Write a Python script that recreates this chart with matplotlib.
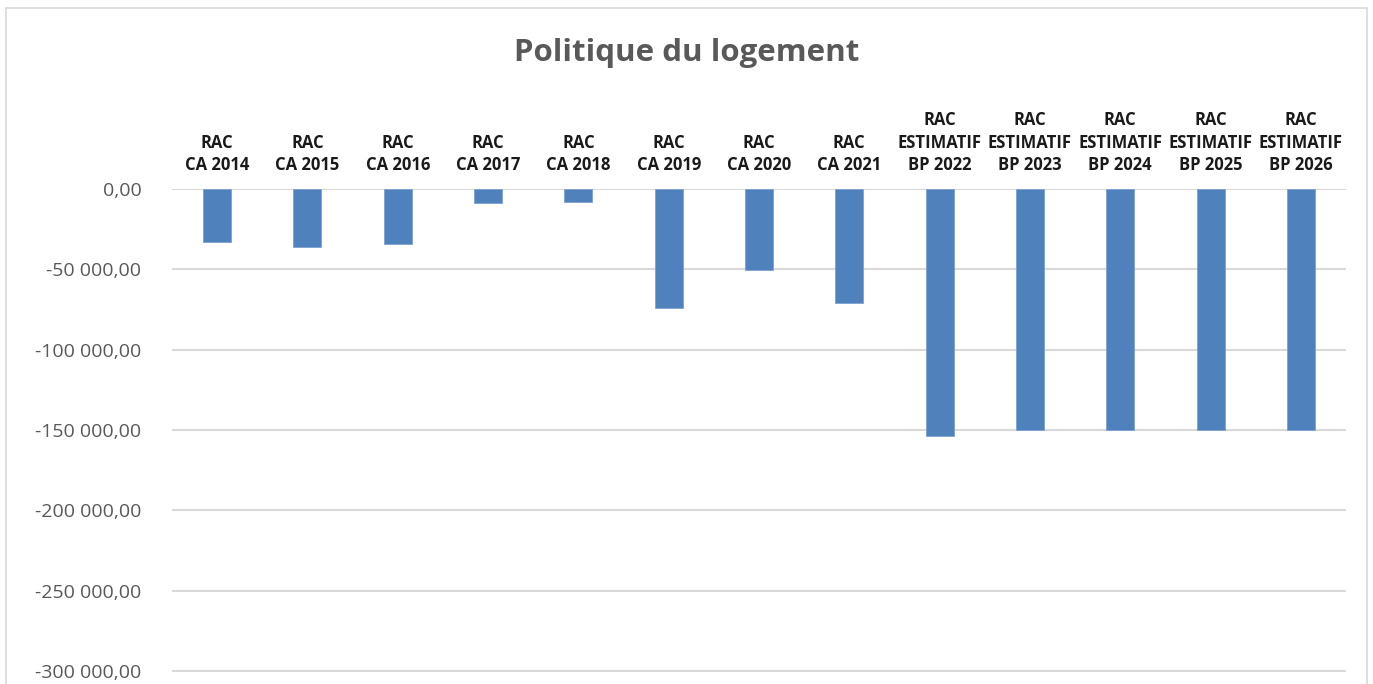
import matplotlib
matplotlib.use("Agg")
import matplotlib.pyplot as plt
from matplotlib.ticker import FuncFormatter, MultipleLocator
from matplotlib.patches import Rectangle
import numpy as np

plt.rcParams['font.family'] = ['Open Sans', 'DejaVu Sans']

# categories and values
categories = ["RAC\nCA 2014", "RAC\nCA 2015", "RAC\nCA 2016", "RAC\nCA 2017",
              "RAC\nCA 2018", "RAC\nCA 2019", "RAC\nCA 2020", "RAC\nCA 2021",
              "RAC\nESTIMATIF\nBP 2022", "RAC\nESTIMATIF\nBP 2023",
              "RAC\nESTIMATIF\nBP 2024", "RAC\nESTIMATIF\nBP 2025",
              "RAC\nESTIMATIF\nBP 2026"]
values = [-32800, -36100, -34400, -8700, -8200, -74000, -50200, -70700,
          -153600, -150000, -150000, -150000, -150000]


def fr_fmt(v, pos):
    s = "{:,.2f}".format(v)
    return s.replace(",", " ").replace(".", ",")


fig = plt.figure(figsize=(13.73, 6.84), dpi=100)
ax = fig.add_axes([172/1373, 0.0, (1346-172)/1373, 1 - 189/684])

x = np.arange(len(categories))
ax.bar(x, values, width=0.31, color="#4f81bd", edgecolor="#7ea3d1", linewidth=0.6, zorder=3)

ax.set_xlim(-0.5, len(categories) - 0.5)
ax.set_ylim(-308100, 0)
ax.yaxis.set_major_locator(MultipleLocator(50000))
ax.yaxis.set_major_formatter(FuncFormatter(fr_fmt))
ax.grid(axis="y", color="#d9d9d9", linewidth=1.5, zorder=0)
ax.set_axisbelow(True)

ax.xaxis.tick_top()
ax.set_xticks(x)
ax.set_xticklabels(categories, fontsize=12, fontweight="bold", color="#1a1a1a",
                   linespacing=1.3)
ax.tick_params(axis="x", length=0, pad=11)
ax.tick_params(axis="y", length=0, pad=22, labelsize=14, labelcolor="#595959")
for s in ax.spines.values():
    s.set_visible(False)

fig.text(0.5, 1 - 53/684, "Politique du logement", ha="center", va="center",
         fontsize=22.5, fontweight="bold", color="#595959")

# chart frame
fig.patches.append(Rectangle((6/1373, -0.1), (1367-6)/1373, 1.1 - 8/684,
                             transform=fig.transFigure, fill=False,
                             edgecolor="#d9d9d9", linewidth=1.2))

fig.savefig("out.png", dpi=100)
